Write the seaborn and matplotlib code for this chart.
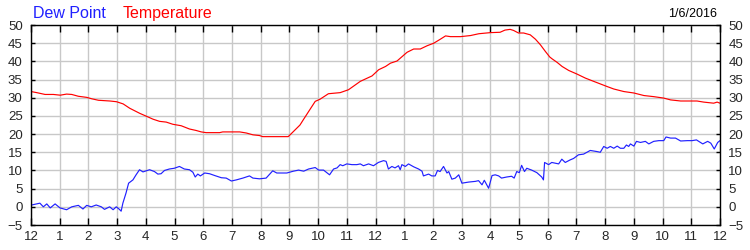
import matplotlib
matplotlib.use("Agg")
import matplotlib.pyplot as plt
import seaborn as sns
import pandas as pd
import numpy as np

# ---- data (hours since midnight) ----
temp_hours = [0.0, 0.2, 0.49, 0.78, 1.02, 1.24, 1.42, 1.65, 1.94, 2.12, 2.35, 2.75, 2.98,
              3.21, 3.44, 3.79, 4.08, 4.25, 4.48, 4.71, 4.94, 5.23, 5.52, 5.75, 5.93, 6.1,
              6.57, 6.68, 7.27, 7.5, 7.73, 7.96, 8.07, 8.44, 8.96, 9.14, 9.37, 9.49, 9.67,
              9.9, 10.07, 10.36, 10.77, 11.06, 11.47, 11.88, 12.11, 12.35, 12.52, 12.75,
              13.1, 13.33, 13.56, 13.8, 14.03, 14.26, 14.44, 14.61, 14.96, 15.31, 15.6,
              16.0, 16.34, 16.51, 16.69, 16.81, 16.98, 17.16, 17.39, 17.57, 17.74, 17.92,
              18.07, 18.15, 18.33, 18.5, 18.73, 19.02, 19.31, 19.6, 19.83, 20.06, 20.3,
              20.65, 21.0, 21.35, 21.69, 22.04, 22.28, 22.63, 23.2, 23.43, 23.78, 23.9, 24.0]
temp_values = [31.7, 31.4, 30.9, 30.9, 30.7, 31.0, 30.9, 30.4, 30.1, 29.7, 29.3, 29.1, 28.9,
               28.3, 27.1, 25.7, 24.7, 24.1, 23.5, 23.3, 22.7, 22.3, 21.4, 21.0, 20.6, 20.4,
               20.4, 20.6, 20.6, 20.3, 19.8, 19.6, 19.3, 19.3, 19.3, 20.7, 22.5, 24.0, 26.2,
               29.0, 29.6, 31.1, 31.4, 32.2, 34.5, 36.0, 37.7, 38.6, 39.5, 40.1,
               42.5, 43.4, 43.4, 44.3, 45.0, 46.1, 47.0, 46.8, 46.8, 47.1, 47.6,
               47.9, 48.0, 48.6, 48.8, 48.5, 47.8, 47.8, 47.3, 46.1, 44.6, 42.7,
               41.2, 40.7, 39.7, 38.6, 37.5, 36.5, 35.4, 34.5, 33.8, 33.1, 32.4,
               31.7, 31.3, 30.6, 30.3, 29.9, 29.4, 29.1, 29.1, 28.8, 28.5, 28.8, 28.5]

dew_hours = [0.0, 0.02, 0.31, 0.43, 0.55, 0.67, 0.84, 1.01, 1.24, 1.42, 1.65, 1.81, 1.94,
             2.1, 2.27, 2.45, 2.56, 2.74, 2.86, 2.97, 3.08, 3.14, 3.2, 3.31, 3.4, 3.55,
             3.66, 3.78, 3.9, 4.13, 4.3, 4.42, 4.53, 4.65, 4.82, 4.99, 5.17, 5.34, 5.52,
             5.64, 5.72, 5.81, 5.9, 6.05, 6.22, 6.4, 6.63, 6.8, 6.98, 7.15, 7.38, 7.61,
             7.73, 7.96, 8.19, 8.42, 8.56, 8.91, 9.14, 9.32, 9.5, 9.67, 9.9, 10.02,
             10.19, 10.4, 10.54, 10.66, 10.77, 10.86, 11.0, 11.18, 11.35, 11.47, 11.58,
             11.76, 11.93, 12.1, 12.28, 12.37, 12.45, 12.57, 12.68, 12.8, 12.86, 12.92,
             13.04, 13.15, 13.33, 13.5, 13.62, 13.67, 13.85, 13.96, 14.08, 14.16, 14.25,
             14.37, 14.49, 14.55, 14.66, 14.78, 14.9, 15.01, 15.24, 15.48, 15.59, 15.71,
             15.79, 15.94, 16.06, 16.17, 16.29, 16.39, 16.57, 16.74, 16.83, 16.92, 17.01,
             17.09, 17.19, 17.27, 17.44, 17.62, 17.79, 17.85, 17.89, 18.03, 18.14, 18.38,
             18.49, 18.61, 18.78, 18.9, 19.07, 19.25, 19.48, 19.71, 19.83, 19.95, 20.07,
             20.18, 20.3, 20.42, 20.53, 20.65, 20.74, 20.82, 20.88, 21.0, 21.09, 21.23,
             21.4, 21.52, 21.69, 21.87, 22.04, 22.12, 22.28, 22.45, 22.63, 22.86, 23.03,
             23.18, 23.4, 23.57, 23.68, 23.8, 23.92, 24.0]
dew_values = [0.6, 0.5, 1.0, 0.0, 0.8, -0.3, 0.8, -0.3, -0.8, 0.0, 0.4, -0.6, 0.4,
              0.0, 0.5, 0.0, -0.7, 0.0, -0.8, 0.0, -0.7, -1.2, 1.0, 3.8, 6.5, 7.4,
              8.8, 10.2, 9.6, 10.2, 9.7, 9.0, 9.1, 10.0, 10.4, 10.6, 11.1, 10.4, 10.2,
              9.5, 8.2, 9.0, 8.5, 9.3, 9.1, 8.6, 8.0, 7.9, 7.1, 7.4, 7.9, 8.5,
              7.9, 7.7, 7.9, 9.9, 9.3, 9.3, 9.8, 10.1, 9.8, 10.4, 10.8, 10.1,
              10.1, 8.8, 10.4, 10.7, 11.6, 11.3, 11.8, 11.6, 11.6, 11.8, 11.3,
              11.8, 11.3, 12.2, 12.7, 12.5, 10.4, 11.1, 10.7, 11.3, 10.2, 11.6,
              11.1, 11.8, 11.0, 10.4, 9.8, 8.5, 9.0, 8.5, 8.5, 10.0, 9.7,
              11.1, 9.3, 9.7, 7.6, 7.9, 8.8, 6.5, 6.8, 7.0, 7.2, 6.05,
              7.3, 5.1, 8.6, 8.8, 8.5, 7.9, 8.2, 8.4, 7.9, 9.7, 9.4,
              11.4, 9.7, 10.6, 10.1, 9.4, 8.2, 7.4, 12.2, 11.6, 12.2, 11.8,
              13.1, 12.2, 12.9, 13.3, 14.3, 14.5, 15.5, 15.2, 15.0, 16.6, 16.1,
              16.6, 16.1, 16.7, 16.1, 16.1, 17.0, 16.6, 17.3, 16.7, 18.0, 17.7,
              18.0, 17.3, 18.0, 18.2, 18.2, 19.2, 18.9, 18.9, 18.1, 18.2, 18.2,
              18.4, 17.3, 18.0, 17.5, 15.9, 17.7, 18.2]

hour_ticks = list(range(0, 25))
hour_labels = ["12", "1", "2", "3", "4", "5", "6", "7", "8", "9", "10", "11",
               "12", "1", "2", "3", "4", "5", "6", "7", "8", "9", "10", "11", "12"]
y_ticks = list(range(-5, 51, 5))

title_dew = "Dew Point"
title_temp = "Temperature"
date_text = "1/6/2016"

# ---- plotting ----
sns.set_style("white")
plt.rcParams['font.family'] = ['Liberation Sans', 'DejaVu Sans']

fig = plt.figure(figsize=(7.5, 2.5), dpi=100)
ax = fig.add_axes([31/750, 25/250, (720-31)/750, 200/250])

temp_df = pd.DataFrame({"hour": temp_hours, "value": temp_values})
dew_df = pd.DataFrame({"hour": dew_hours, "value": dew_values})

sns.lineplot(data=temp_df, x="hour", y="value", ax=ax, color="#ff0000", linewidth=0.85,
             estimator=None, sort=False)
sns.lineplot(data=dew_df, x="hour", y="value", ax=ax, color="#2020ff", linewidth=0.85,
             estimator=None, sort=False)

ax.set_xlim(0, 24)
ax.set_ylim(-5, 50)
ax.set_xticks(hour_ticks)
ax.set_xticklabels(hour_labels)
ax.set_yticks(y_ticks)
ax.set_xlabel("")
ax.set_ylabel("")

ax.grid(True, color="#c8c8c8", linewidth=1.0)
ax.set_axisbelow(True)
for s in ax.spines.values():
    s.set_visible(True)
    s.set_color("black")
    s.set_linewidth(1.0)

ax.tick_params(axis="x", which="both", direction="in", length=5, width=1, color="black",
               top=True, bottom=True, labeltop=False, labelbottom=True,
               labelsize=9.5, pad=4)
ax.tick_params(axis="y", which="both", direction="in", length=3, width=1, color="black",
               left=True, right=True, labelleft=True, labelright=True,
               labelsize=9.5, pad=6)

fig.text(33/750, 1 - 18/250, title_dew, color="#2020ff", fontsize=11.5, ha="left",
         va="baseline")
fig.text(123/750, 1 - 18/250, title_temp, color="#ff0000", fontsize=11.5, ha="left",
         va="baseline")
fig.text(717/750, 1 - 17/250, date_text, color="black", fontsize=9, ha="right",
         va="baseline")

fig.savefig("out.png", dpi=100)
